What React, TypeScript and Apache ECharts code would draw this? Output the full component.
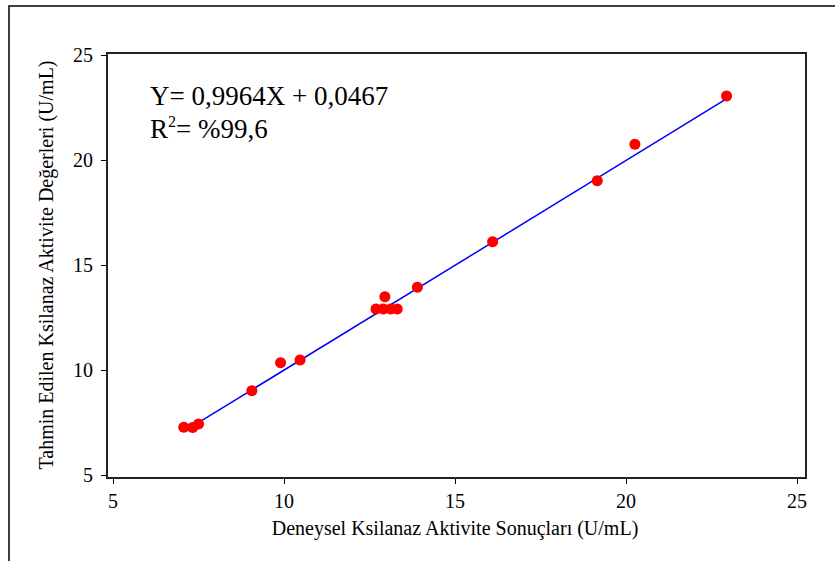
import React, { useEffect, useRef } from "react";
import * as echarts from "echarts";

const xTitle = "Deneysel Ksilanaz Aktivite Sonuçları (U/mL)";
const yTitle = "Tahmin Edilen Ksilanaz Aktivite Değerleri (U/mL)";
const expX = [7.07, 7.33, 7.5, 9.06, 9.9, 10.47, 12.69, 12.9, 12.95, 13.12, 13.31, 13.9, 16.1, 19.16, 20.26, 22.94];
const predY = [7.27, 7.26, 7.43, 9.01, 10.35, 10.48, 12.9, 12.9, 13.49, 12.9, 12.9, 13.94, 16.11, 19.01, 20.75, 23.05];
const fitX = [7.1, 22.9];
const fitY = [7.1, 22.87];
const eqLine1 = "Y= 0,9964X + 0,0467";
const eqLine2Pre = "R";
const eqLine2Sup = "2";
const eqLine2Post = "= %99,6";

const FONT = "'Liberation Serif', 'Times New Roman', serif";

export default function App() {
  const ref = useRef<HTMLDivElement>(null);
  useEffect(() => {
    if (!ref.current) return;
    const chart = echarts.init(ref.current, null, { renderer: "svg" });
    chart.setOption({
      animation: false,
      backgroundColor: "#fff",
      textStyle: { fontFamily: FONT, color: "#000" },
      grid: { left: 113, right: 38, top: 55, bottom: 86 },
      xAxis: {
        type: "value",
        min: 5,
        max: 25,
        interval: 5,
        offset: 3,
        axisLine: { show: false },
        axisTick: { show: true, length: 6, lineStyle: { color: "#000", width: 1 } },
        axisLabel: { margin: 13, fontSize: 20, fontFamily: FONT, color: "#000" },
        splitLine: { show: false },
        name: xTitle,
        nameLocation: "middle",
        nameGap: 40,
        nameTextStyle: { fontSize: 20, fontFamily: FONT, color: "#000" },
      },
      yAxis: {
        type: "value",
        min: 5,
        max: 25,
        interval: 5,
        offset: 6,
        axisLine: { show: false },
        axisTick: { show: true, length: 6, lineStyle: { color: "#000", width: 1 } },
        axisLabel: { margin: 14, fontSize: 20, fontFamily: FONT, color: "#000" },
        splitLine: { show: false },
        name: yTitle,
        nameLocation: "middle",
        nameGap: 51,
        nameTextStyle: { fontSize: 20, fontFamily: FONT, color: "#000" },
      },
      graphic: [
        {
          type: "rect",
          shape: { x: 9, y: 6, width: 900, height: 700 },
          style: { fill: "none", stroke: "#000", lineWidth: 1.5 },
          silent: true,
        },
        {
          type: "rect",
          shape: { x: 107, y: 53, width: 699, height: 425 },
          style: { fill: "none", stroke: "#222", lineWidth: 2 },
          silent: true,
          z: 10,
        },
        {
          type: "text",
          left: 150,
          top: 82,
          style: { text: eqLine1, font: `27px ${FONT}`, fill: "#000" },
        },
        {
          type: "text",
          left: 150,
          top: 113,
          style: {
            text: `${eqLine2Pre}{s|${eqLine2Sup}}${eqLine2Post}`,
            font: `27px ${FONT}`,
            fill: "#000",
            lineHeight: 31,
            rich: {
              s: { fontSize: 16, fontFamily: FONT, verticalAlign: "top", lineHeight: 31 },
            },
          },
        },
      ],
      series: [
        {
          type: "line",
          data: fitX.map((x, i) => [x, fitY[i]]),
          showSymbol: false,
          lineStyle: { color: "#0000ff", width: 1.5 },
          z: 2,
        },
        {
          type: "scatter",
          data: expX.map((x, i) => [x, predY[i]]),
          symbolSize: 11,
          itemStyle: { color: "#ff0000", opacity: 1 },
          z: 3,
        },
      ],
    });
    return () => chart.dispose();
  }, []);
  return (
    <div
      ref={ref}
      style={{ position: "absolute", left: 0, top: 0, width: 835, height: 561 }}
    />
  );
}
